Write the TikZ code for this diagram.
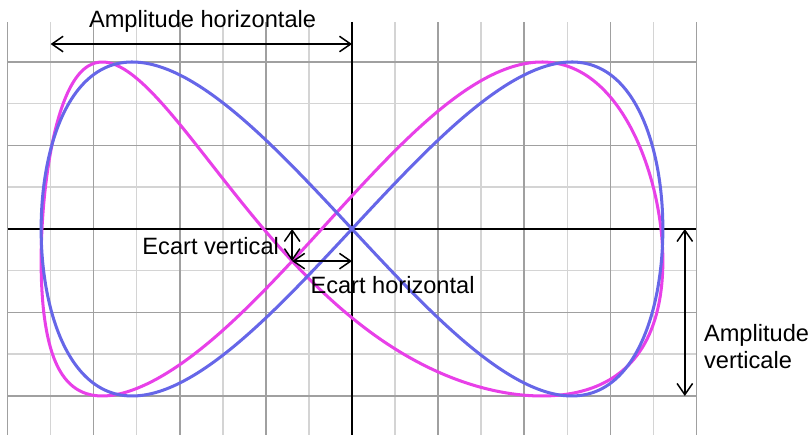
\documentclass[tikz,border=0pt]{standalone}
\usepackage{fontspec}
\setmainfont{Liberation Sans}
\usepackage{tikz}
\usetikzlibrary{arrows.meta,positioning}
\usepackage{xcolor}
\definecolor{ink}{RGB}{0,0,0}
\definecolor{gridD}{RGB}{160,160,160}
\definecolor{gridL}{RGB}{212,212,212}
\definecolor{curveB}{RGB}{102,102,232}
\definecolor{curveP}{RGB}{232,64,232}
\tikzset{
  majline/.style={draw=gridD,line width=1pt},
  minline/.style={draw=gridL,line width=1pt},
  axisline/.style={draw=ink,line width=1.3pt},
  curve/.style={line width=2pt,smooth,line join=round},
  arr/.style={{Straight Barb[length=2.6mm,width=3.6mm]}-{Straight Barb[length=2.6mm,width=3.6mm]},line width=1pt,draw=ink},
  lbl/.style={inner sep=0pt,font=\fontsize{15.6pt}{17.8pt}\selectfont,text=ink},
}

\begin{document}
\begin{tikzpicture}[x=1cm,y=0.9696cm]
% figure-eight traces on a grid, with the spacings marked
\useasboundingbox (-8.175,-4.934) rectangle (10.66,5.485);
\foreach \i in {-7,-5,...,7}
  \draw[minline] (\i,-4.934) -- (\i,4.958);
\foreach \j in {-3,-1,1,3}
  \draw[minline] (-8,\j) -- (8,\j);
\foreach \i in {-8,-6,...,8}
  \draw[majline] (\i,-4.934) -- (\i,4.958);
\foreach \j in {-4,-2,2,4}
  \draw[majline] (-8,\j) -- (8,\j);
\coordinate (xl) at (-8,0);
\coordinate (xr) at (8,0);
\coordinate (yt) at (0,4.958);
\coordinate (yb) at (0,-4.934);
\draw[axisline] (xl) -- (xr);
\draw[axisline] (yt) -- (yb);
\draw[curve,curveP] plot[domain=0:360,samples=240,variable=\t]
  ({7.22*sin(\t)-1.39*cos(\t)*cos(\t)},{4*sin(2*\t)-0.77*cos(2*\t)*cos(2*\t)}) -- cycle;
\draw[curve,curveB] plot[domain=0:360,samples=240,variable=\t]
  ({7.22*sin(\t)},{4*sin(2*\t)}) -- cycle;
% marks
\coordinate (O) at (0,0);
\coordinate (hl) at (-7,4.43);
\coordinate (hr) at (0,4.43);
\coordinate (cx) at (-1.39,-0.77);
\coordinate (cv) at (-1.39,0);
\coordinate (ch) at (0,-0.77);
\coordinate (vt) at (7.73,0);
\coordinate (vb) at (7.73,-4);
\draw[arr] (hl) -- (hr);
\draw[arr] (cv) -- (cx);
\draw[arr] (cx) -- (ch);
\draw[arr] (vt) -- (vb);
\node[lbl,anchor=base] (ahz) at (-3.47,4.838) {Amplitude horizontale};
\node[lbl,anchor=base east] (ecv) at (-1.69,-0.623) {Ecart vertical};
\node[lbl,anchor=base west] (ech) at (-0.97,-1.557) {Ecart horizontal};
\node[lbl,anchor=north west,align=left] (avt) at (8.17,-2.275) {Amplitude\\verticale};
\end{tikzpicture}
\end{document}
